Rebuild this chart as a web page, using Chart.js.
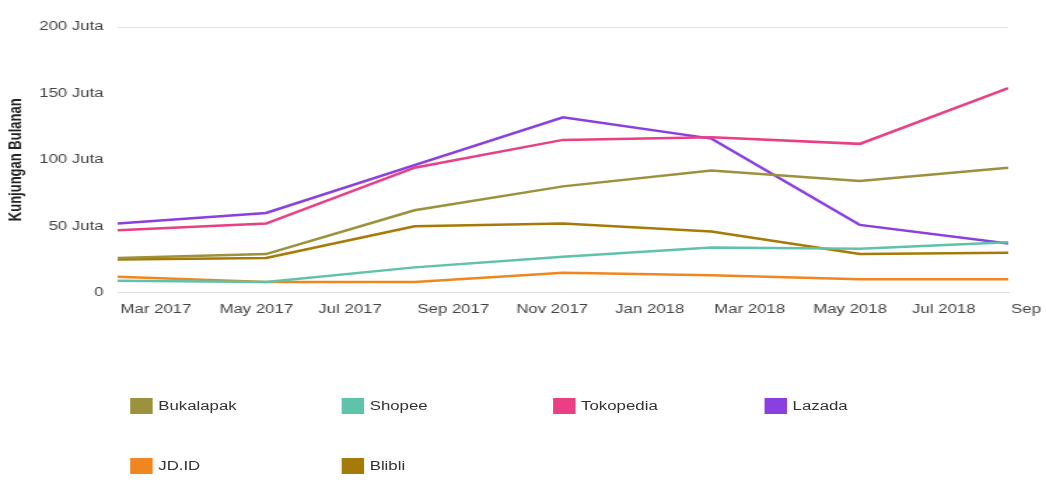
<!DOCTYPE html>
<html>
<head>
<meta charset="utf-8">
<script src="https://cdn.jsdelivr.net/npm/chart.js@4/dist/chart.umd.min.js"></script>
<style>
  html, body { margin: 0; padding: 0; background: #fff; overflow: hidden; }
  #stage { position: relative; width: 747px; height: 498px; transform: scaleX(1.4003); transform-origin: 0 0; }
  #chartBox { position: absolute; left: 0; top: 0; width: 747px; height: 321px; }
  #legend { position: absolute; left: 93px; top: 398px; display: grid; grid-template-columns: repeat(4, 151px); row-gap: 44px;
            font: 12px 'Liberation Sans', Arial, sans-serif; color: #333; }
  .item { display: flex; align-items: center; height: 16px; white-space: nowrap; }
  .swatch { width: 16px; height: 16px; margin-right: 4px; flex: none; }
</style>
</head>
<body>
<div id="stage">
  <div id="chartBox"><canvas id="chart"></canvas></div>
  <div id="legend"></div>
</div>
<script>
'use strict';

// quarters, placed by months since Mar 2017
let quarters = ['Q1 2017', 'Q2 2017', 'Q3 2017', 'Q4 2017', 'Q1 2018', 'Q2 2018', 'Q3 2018'];
let quarterMonths = [0, 3, 6, 9, 12, 15, 18];

// x tick labels, every 2 months from Mar 2017
let xTickLabels = ['Mar 2017', 'May 2017', 'Jul 2017', 'Sep 2017', 'Nov 2017',
  'Jan 2018', 'Mar 2018', 'May 2018', 'Jul 2018', 'Sep 2018'];
let yTicks = [0, 50, 100, 150, 200];

// monthly visits, millions
let bukalapak = [26, 29, 62, 80, 92, 84, 94];
let shopee = [9, 8, 19, 27, 34, 33, 38];
let tokopedia = [47, 52, 94, 115, 117, 112, 154];
let lazada = [52, 60, 96, 132, 116, 51, 37];
let jdid = [12, 8, 8, 15, 13, 10, 10];
let blibli = [25, 26, 50, 52, 46, 29, 30];

let seriesNames = ['Bukalapak', 'Shopee', 'Tokopedia', 'Lazada', 'JD.ID', 'Blibli'];
let seriesValues = [bukalapak, shopee, tokopedia, lazada, jdid, blibli];
let seriesColors = ['#9c913c', '#5fc2aa', '#ea3f84', '#8a3fe0', '#f0861f', '#a57a06'];

Chart.defaults.font.family = "'Liberation Sans', Arial, sans-serif";
Chart.defaults.font.size = 12;
Chart.defaults.color = '#444';

function toPoints(values) {
  let pts = [];
  for (let i = 0; i < values.length; i++) {
    pts.push({ x: quarterMonths[i], y: values[i] });
  }
  return pts;
}

let datasets = [];
for (let i = 0; i < seriesNames.length; i++) {
  datasets.push({
    label: seriesNames[i],
    data: toPoints(seriesValues[i]),
    borderColor: seriesColors[i],
    backgroundColor: seriesColors[i],
    borderWidth: 2.5,
    pointRadius: 0,
    tension: 0
  });
}

let config = {
  type: 'line',
  data: { datasets: datasets },
  options: {
    responsive: true,
    maintainAspectRatio: false,
    animation: false,
    layout: { padding: { top: 27, right: 27, bottom: 2, left: 0 } },
    plugins: {
      legend: { display: false },
      tooltip: { enabled: false }
    },
    scales: {
      x: {
        type: 'linear',
        min: 0,
        max: 18,
        grid: { display: false },
        border: { display: true, color: '#dcdcdc', width: 1 },
        ticks: {
          stepSize: 2,
          autoSkip: false,
          maxRotation: 0,
          align: 'start',
          labelOffset: 2,
          padding: 2,
          callback: (v) => xTickLabels[v / 2]
        },
        afterFit: (s) => { s.paddingRight = 0; }
      },
      y: {
        min: yTicks[0],
        max: yTicks[yTicks.length - 1],
        border: { display: false },
        grid: {
          drawTicks: false,
          color: (c) => c.tick && c.tick.value === 200 ? '#e6e6e6' : 'rgba(0,0,0,0)'
        },
        ticks: {
          stepSize: 50,
          padding: 10,
          callback: (v) => v === 0 ? '0' : v + ' Juta'
        },
        title: {
          display: true,
          text: 'Kunjungan Bulanan',
          color: '#222',
          font: { size: 13, weight: 'bold' }
        },
        afterFit: (s) => { s.width = 84; }
      }
    }
  }
};

let chart = new Chart(document.getElementById('chart'), config);

// html legend in fixed columns
let legendElem = document.getElementById('legend');
chart.data.datasets.forEach((ds) => {
  let item = document.createElement('div');
  item.className = 'item';
  let sw = document.createElement('span');
  sw.className = 'swatch';
  sw.style.background = ds.borderColor;
  let txt = document.createElement('span');
  txt.textContent = ds.label;
  item.appendChild(sw);
  item.appendChild(txt);
  legendElem.appendChild(item);
});
</script>
</body>
</html>
